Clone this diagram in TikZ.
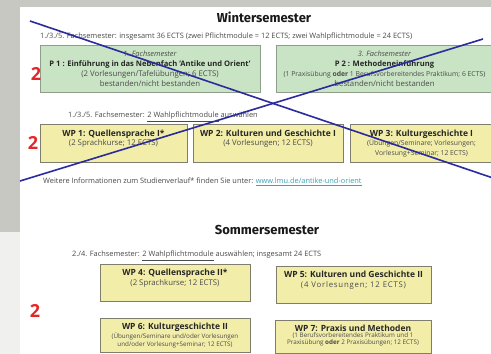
\documentclass[tikz,border=0pt]{standalone}
\usepackage{fontspec}
\setmainfont{Open Sans}
\newfontfamily\headfont{Fira Sans}
\usetikzlibrary{positioning}

\definecolor{bargray}{HTML}{C8C8C3}
\definecolor{pagegray}{HTML}{F0F0EE}
\definecolor{boxgreen}{HTML}{C9E4C4}
\definecolor{greenline}{HTML}{8E9E8B}
\definecolor{boxyellow}{HTML}{F2EEAA}
\definecolor{yellowline}{HTML}{7F7E6E}
\definecolor{textgray}{HTML}{4A4A4A}
\definecolor{numred}{HTML}{E5252A}
\definecolor{crossblue}{HTML}{2B2B9E}
\definecolor{linkteal}{HTML}{3AA3B5}

\tikzset{
  pbox/.style={draw=greenline, fill=boxgreen, line width=0.8pt, inner sep=0pt},
  wpbox/.style={draw=yellowline, fill=boxyellow, line width=0.8pt, inner sep=0pt},
  boxtext/.style={align=center, inner sep=0pt, text=textgray, font=\fontsize{7.8}{9.7}\selectfont},
  subtext/.style={boxtext, font=\fontsize{6.8}{9.7}\selectfont},
  smalltext/.style={boxtext, font=\fontsize{6.3}{7.2}\selectfont},
  info/.style={anchor=west, inner sep=0pt, text=textgray, font=\fontsize{7.4}{8}\selectfont},
  head/.style={inner sep=0pt, text=black!90, font=\headfont\bfseries\fontsize{13}{13}\selectfont},
  two/.style={inner sep=0pt, text=numred, font=\bfseries\fontsize{18}{18}\selectfont},
  cross/.style={draw=crossblue, line width=1.6pt},
}
\newcommand{\phead}[1]{{\color{black!85}\bfseries\fontsize{7.6}{9.7}\selectfont #1}}
\newcommand{\wphead}[1]{{\color{black!85}\bfseries\fontsize{8.5}{9.7}\selectfont #1}}
\newcommand{\semline}[1]{{\itshape\fontsize{7.4}{9.7}\selectfont #1}}

\begin{document}
\begin{tikzpicture}[x=1pt,y=-1pt]
\useasboundingbox (0,0) rectangle (491,354);
% page background
\fill[pagegray] (0,0) rectangle (491,354);
\fill[white] (20,7) rectangle (491,354);
\fill[bargray] (0,0) rectangle (491,7);
\fill[bargray] (0,0) rectangle (20,232);

% Wintersemester
\node[head] (winter) at (264,17) {Wintersemester};
\node[info] (info1) at (40,37) {1./3./5. Fachsemester: insgesamt 36 ECTS (zwei Pflichtmodule = 12 ECTS; zwei Wahlpflichtmodule = 24 ECTS)};

\node[pbox, minimum width=220pt, minimum height=47pt] (p1) at (150,68.5) {};
\node[boxtext, below=6.5pt of p1.north] (p1t) {\semline{1. Fachsemester}\\
  \phead{P 1 : Einführung in das Nebenfach 'Antike und Orient'}\\
  (2 Vorlesungen/Tafelübungen; 6 ECTS)\\
  bestanden/nicht bestanden};
\node[pbox, minimum width=217pt, minimum height=47pt] (p2) at (384.5,68.5) {};
\node[boxtext, below=6.5pt of p2.north] (p2t) {\semline{3. Fachsemester}\\
  \phead{P 2 : Methodeneinführung}\\
  {\fontsize{6.8}{9.7}\selectfont(1 Praxisübung \textbf{oder} 1 Berufsvorbereitendes Praktikum; 6 ECTS)}\\
  bestanden/nicht bestanden};
\node[two] (two1) at (36,74) {2};

\node[info] (info2) at (68,117) {1./3./5. Fachsemester: \underline{2 Wahlpflichtmodule} auswählen};
\node[wpbox, minimum width=147pt, minimum height=38pt] (wp1) at (113.5,143) {};
\node[boxtext, below=6pt of wp1.north] (wp1t) {\wphead{WP 1: Quellensprache I*}\\ (2 Sprachkurse; 12 ECTS)};
\node[wpbox, minimum width=150pt, minimum height=38pt] (wp2) at (268,143) {};
\node[boxtext, below=6pt of wp2.north] (wp2t) {\wphead{WP 2: Kulturen und Geschichte I}\\ (4 Vorlesungen; 12 ECTS)};
\node[wpbox, minimum width=143pt, minimum height=38pt] (wp3) at (421.5,143) {};
\node[subtext, below=6pt of wp3.north] (wp3t) {\wphead{WP 3: Kulturgeschichte I}\\ (Übungen/Seminare; Vorlesungen;\\ Vorlesung+Seminar; 12 ECTS)};
\node[two] (two2) at (33,143) {2};

\node[info] (info3) at (43,182) {Weitere Informationen zum Studienverlauf* finden Sie unter: {\color{linkteal}\underline{www.lmu.de/antike-und-orient}}};

% Sommersemester
\node[head] (summer) at (267,230) {Sommersemester};
\node[info] (info4) at (72,256) {2./4. Fachsemester: \underline{2 Wahlpflichtmodule} auswählen; insgesamt 24 ECTS};

\node[wpbox, minimum width=150pt, minimum height=37pt] (wp4) at (175,282.5) {};
\node[boxtext, below=5.5pt of wp4.north] (wp4t) {\wphead{WP 4: Quellensprache II*}\\ (2 Sprachkurse; 12 ECTS)};
\node[wpbox, minimum width=155pt, minimum height=37pt] (wp5) at (353.5,284.5) {};
\node[boxtext, below=5.5pt of wp5.north] (wp5t) {\wphead{WP 5: Kulturen und Geschichte II}\\ {\addfontfeature{LetterSpace=10}(4 Vorlesungen; 12 ECTS)}};
\node[wpbox, minimum width=150pt, minimum height=34pt] (wp6) at (175,335.5) {};
\node[boxtext, below=5pt of wp6.north] (wp6h) {\wphead{WP 6: Kulturgeschichte II}};
\node[smalltext, below=1pt of wp6h] (wp6t) {(Übungen/Seminare und/oder Vorlesungen\\ und/oder Vorlesung+Seminar; 12 ECTS)};
\node[wpbox, minimum width=156pt, minimum height=33pt] (wp7) at (353,336.5) {};
\node[boxtext, below=5pt of wp7.north] (wp7h) {\wphead{WP 7: Praxis und Methoden}};
\node[smalltext, below=1pt of wp7h] (wp7t) {(1 Berufsvorbereitendes Praktikum und 1\\ Praxisübung \textbf{oder} 2 Praxisübungen; 12 ECTS)};
\node[two] (two3) at (35,311) {2};

% cross-out strokes
\coordinate (c1) at (30,21);
\coordinate (c2) at (493,178);
\coordinate (c3) at (20,181);
\coordinate (c4) at (483,39);
\draw[cross] (c1) -- (c2);
\draw[cross] (c3) -- (c4);
\end{tikzpicture}
\end{document}
